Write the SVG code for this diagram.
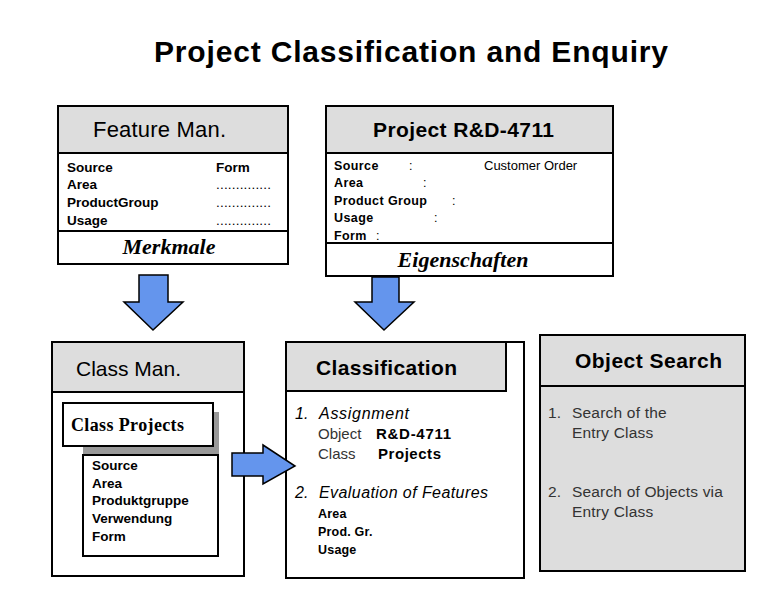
<svg xmlns="http://www.w3.org/2000/svg" width="780" height="600" viewBox="0 0 780 600">
<style>
.box{fill:#fff;stroke:#000;stroke-width:2}
.hdr{fill:#dddddd;stroke:#000;stroke-width:2}
.ln{stroke:#000;stroke-width:2}
.arrow{fill:#6495ed;stroke:#000;stroke-width:1.5;stroke-linejoin:miter}
text{font-family:"Liberation Sans",Arial,sans-serif;fill:#000}
.title{font-size:30px;font-weight:bold}
.h{font-size:21px}
.hb{font-size:21px;font-weight:bold}
.f{font-size:13.5px;font-weight:bold}
.fs{font-size:12.5px;font-weight:bold;letter-spacing:0.4px}
.ser{font-family:"Liberation Serif","Times New Roman",serif;font-weight:bold;font-style:italic;font-size:22px}
.cp{font-family:"Liberation Serif","Times New Roman",serif;font-weight:bold;font-size:18px}
.it{font-size:16px;font-style:italic}
.r{font-size:15px;fill:#333}
.rb{font-size:15px;font-weight:bold}
.os{font-size:15.5px;fill:#333;letter-spacing:0.2px}
</style>
<text class="title" x="154" y="62" textLength="514" lengthAdjust="spacing">Project Classification and Enquiry</text>

<g id="feature-man">
<rect class="box" x="58" y="106" width="230" height="158"/>
<rect class="hdr" x="58" y="106" width="230" height="47"/>
<line class="ln" x1="58" y1="231" x2="288" y2="231"/>
<text class="h" x="93" y="137" style="font-size:22px" textLength="133" lengthAdjust="spacing">Feature Man.</text>
<text class="f" x="67" y="172">Source</text>
<text class="f" x="67" y="189">Area</text>
<text class="f" x="67" y="207">ProductGroup</text>
<text class="f" x="67" y="225">Usage</text>
<text class="f" x="216" y="172">Form</text>
<text class="f" x="216" y="189" style="font-weight:normal" textLength="55" lengthAdjust="spacing">..............</text>
<text class="f" x="216" y="207" style="font-weight:normal" textLength="55" lengthAdjust="spacing">..............</text>
<text class="f" x="216" y="225" style="font-weight:normal" textLength="55" lengthAdjust="spacing">..............</text>
<text class="ser" x="169" y="254" text-anchor="middle">Merkmale</text>
</g>

<g id="project">
<rect class="box" x="326" y="106" width="287" height="170"/>
<rect class="hdr" x="326" y="106" width="287" height="47"/>
<line class="ln" x1="326" y1="243" x2="613" y2="243"/>
<text class="hb" x="373" y="137" textLength="181" lengthAdjust="spacing">Project R&amp;D-4711</text>
<text class="fs" x="334" y="170">Source</text>
<text class="fs" x="334" y="187">Area</text>
<text class="fs" x="334" y="205">Product Group</text>
<text class="fs" x="334" y="222">Usage</text>
<text class="fs" x="334" y="240">Form</text>
<text class="fs" x="409" y="170" style="font-weight:normal">:</text>
<text class="fs" x="423" y="187" style="font-weight:normal">:</text>
<text class="fs" x="452" y="205" style="font-weight:normal">:</text>
<text class="fs" x="434" y="222" style="font-weight:normal">:</text>
<text class="fs" x="376" y="240" style="font-weight:normal">:</text>
<text x="484" y="170" style="font-size:13px">Customer Order</text>
<text class="ser" x="463" y="267" text-anchor="middle">Eigenschaften</text>
</g>

<g id="class-man">
<rect class="box" x="52" y="342" width="192" height="234"/>
<rect class="hdr" x="52" y="342" width="192" height="50"/>
<text class="h" x="76" y="376">Class Man.</text>
<rect x="83" y="412" width="136" height="43" fill="#999"/>
<rect class="box" x="83" y="455" width="135" height="101"/>
<rect class="box" x="63" y="403" width="150" height="43"/>
<text class="cp" x="71" y="431" textLength="113" lengthAdjust="spacing">Class Projects</text>
<text class="f" x="92" y="470">Source</text>
<text class="f" x="92" y="488">Area</text>
<text class="f" x="92" y="505">Produktgruppe</text>
<text class="f" x="92" y="523">Verwendung</text>
<text class="f" x="92" y="541">Form</text>
</g>

<g id="classification">
<rect class="box" x="286" y="342" width="238" height="236"/>
<rect class="hdr" x="286" y="342" width="220" height="49"/>
<text class="hb" x="316" y="375" textLength="141" lengthAdjust="spacing">Classification</text>
<text class="it" x="295" y="419">1.</text>
<text class="it" x="319" y="419" textLength="90" lengthAdjust="spacing">Assignment</text>
<text class="r" x="318" y="439">Object</text>
<text class="rb" x="376" y="439" textLength="75" lengthAdjust="spacing">R&amp;D-4711</text>
<text class="r" x="318" y="459">Class</text>
<text class="rb" x="378" y="459" textLength="63" lengthAdjust="spacing">Projects</text>
<text class="it" x="295" y="498">2.</text>
<text class="it" x="319" y="498" textLength="169" lengthAdjust="spacing">Evaluation of Features</text>
<text class="fs" x="318" y="518" style="letter-spacing:0.2px">Area</text>
<text class="fs" x="318" y="536" style="letter-spacing:0.2px">Prod. Gr.</text>
<text class="fs" x="318" y="554" style="letter-spacing:0.2px">Usage</text>
</g>

<g id="object-search">
<rect class="hdr" x="540" y="335" width="205" height="236"/>
<line class="ln" x1="540" y1="386" x2="745" y2="386"/>
<text class="hb" x="575" y="368" textLength="147" lengthAdjust="spacing">Object Search</text>
<text class="os" x="548" y="418">1.</text>
<text class="os" x="572" y="418">Search of the</text>
<text class="os" x="572" y="438">Entry Class</text>
<text class="os" x="548" y="497">2.</text>
<text class="os" x="572" y="497" textLength="151" lengthAdjust="spacing">Search of Objects via</text>
<text class="os" x="572" y="517">Entry Class</text>
</g>

<g id="connectors">
<polygon class="arrow" points="139,275 168,275 168,302 183,302 153,330 124,302 139,302"/>
<polygon class="arrow" points="372,277 399,277 399,302 414,302 384,330 355,302 372,302"/>
<polygon class="arrow" points="232,453 263,453 263,445 295,466 263,484 263,476 232,476"/>
</g>
</svg>
